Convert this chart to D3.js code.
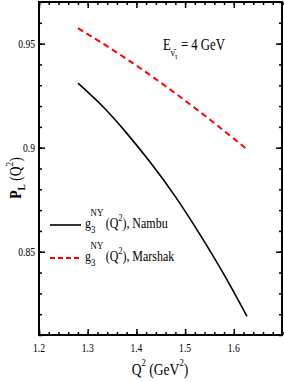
<!DOCTYPE html>
<html>
<head>
<meta charset="utf-8">
<script src="https://cdn.jsdelivr.net/npm/d3@7"></script>
<style>
  body { margin: 0; background: #fff; }
  svg text { font-family: "Liberation Serif", "DejaVu Serif", serif; fill: #000; }
</style>
</head>
<body>
<svg id="chart" width="284" height="382"></svg>
<script>
// values
var q2 = [1.28, 1.33, 1.38, 1.43, 1.48, 1.53, 1.58, 1.627];
var nambu = [0.931, 0.920, 0.907, 0.8925, 0.8765, 0.8585, 0.839, 0.819];
var marshak = [0.9574, 0.9502, 0.9426, 0.9346, 0.9261, 0.9173, 0.9081, 0.8992];
var xTicks = [1.2, 1.3, 1.4, 1.5, 1.6];
var yTicks = [0.85, 0.9, 0.95];
var xMinor = d3.range(1.2, 1.7001, 0.02);
var yMinor = d3.range(0.81, 0.9701, 0.01);

function draw() {
    var svg = d3.select("#chart");
    var mLeft = 39, mRight = 282, mTop = 2, mBottom = 335;
    var x = d3.scaleLinear().domain([1.2, 1.7]).range([mLeft, mLeft + 0.5 * 487]);
    var y = d3.scaleLinear().domain([0.81, 0.97]).range([mBottom, mTop]);

    // squeezed serif text, like the original
    function label(px, py, size, anchor) {
        return svg.append("text")
            .attr("transform", "translate(" + px + "," + py + ") scale(0.8,1)")
            .attr("font-size", size)
            .attr("text-anchor", anchor || "start");
    }

    // ticks, all pointing inwards, on all four sides
    function ticks(axis, tr, vals, size) {
        var g = svg.append("g").attr("transform", tr)
            .call(axis.tickValues(vals).tickSize(size).tickFormat(""));
        g.select(".domain").remove();
        g.selectAll("line").attr("stroke", "#000").attr("stroke-width", 1.5);
    }
    ticks(d3.axisBottom(x), "translate(0," + mBottom + ")", xMinor, -3);
    ticks(d3.axisBottom(x), "translate(0," + mBottom + ")", xTicks, -6);
    ticks(d3.axisTop(x), "translate(0," + mTop + ")", xMinor, -3);
    ticks(d3.axisTop(x), "translate(0," + mTop + ")", xTicks, -6);
    ticks(d3.axisLeft(y), "translate(" + mLeft + ",0)", yMinor, -3);
    ticks(d3.axisLeft(y), "translate(" + mLeft + ",0)", yTicks, -6);
    ticks(d3.axisRight(y), "translate(" + mRight + ",0)", yMinor, -3);
    ticks(d3.axisRight(y), "translate(" + mRight + ",0)", yTicks, -6);

    svg.append("rect")
        .attr("x", mLeft).attr("y", mTop)
        .attr("width", mRight - mLeft).attr("height", mBottom - mTop)
        .attr("fill", "none").attr("stroke", "#000").attr("stroke-width", 2);

    // tick labels
    xTicks.forEach(function(d) {
        label(x(d), mBottom + 17, 12, "middle").text(d3.format("")(d));
    });
    yTicks.forEach(function(d) {
        label(mLeft - 4, y(d) + 4, 12, "end").text(d3.format("")(d));
    });

    // curves
    var line = d3.line().curve(d3.curveNatural)
        .x(function(d) { return x(d[0]); })
        .y(function(d) { return y(d[1]); });

    svg.append("path")
        .attr("d", line(d3.zip(q2, nambu)))
        .attr("fill", "none").attr("stroke", "#000").attr("stroke-width", 1.6);

    svg.append("path")
        .attr("d", line(d3.zip(q2, marshak)))
        .attr("fill", "none").attr("stroke", "#ff0000").attr("stroke-width", 2)
        .attr("stroke-dasharray", "6,4");

    // energy note
    var e = label(163, 50, 16);
    e.append("tspan").text("E");
    e.append("tspan").attr("font-size", 11).attr("dy", 6).text("\u03bd\u0304");
    e.append("tspan").attr("font-size", 9).attr("dy", 3).text("\u03c4");
    e.append("tspan").attr("dy", -9).text(" = 4 GeV");

    // legend
    function legendRow(py, color, dash, name) {
        svg.append("line")
            .attr("x1", 50).attr("x2", 81).attr("y1", py - 1).attr("y2", py - 1)
            .attr("stroke", color).attr("stroke-width", dash ? 2 : 1.6)
            .attr("stroke-dasharray", dash ? "5,3" : null);
        var t = label(85, py + 2, 15);
        t.append("tspan").text("g");
        t.append("tspan").attr("font-size", 11).attr("dy", 5).text("3");
        t.append("tspan").attr("font-size", 11).attr("dx", -6).attr("dy", -17).text("NY");
        t.append("tspan").attr("dx", 3).attr("dy", 12).text("(Q");
        t.append("tspan").attr("font-size", 10).attr("dy", -7).text("2");
        t.append("tspan").attr("dy", 7).text("), " + name);
    }
    legendRow(226, "#000", false, "Nambu");
    legendRow(259, "#ff0000", true, "Marshak");

    // axis titles
    var xt = label(160, 375, 17, "middle");
    xt.append("tspan").text("Q");
    xt.append("tspan").attr("font-size", 11).attr("dy", -9).text("2");
    xt.append("tspan").attr("dy", 9).text(" (GeV");
    xt.append("tspan").attr("font-size", 11).attr("dy", -9).text("2");
    xt.append("tspan").attr("dy", 9).text(")");

    var yt = svg.append("text")
        .attr("transform", "translate(21,178) rotate(-90) scale(0.85,1)")
        .attr("font-size", 16).attr("text-anchor", "middle");
    yt.append("tspan").attr("font-weight", "bold").text("P");
    yt.append("tspan").attr("font-size", 11).attr("font-weight", "bold").attr("dy", 4).text("L");
    yt.append("tspan").attr("dy", -4).text(" (Q");
    yt.append("tspan").attr("font-size", 11).attr("dy", -8).text("2");
    yt.append("tspan").attr("dy", 8).text(")");
}
draw();
</script>
</body>
</html>
